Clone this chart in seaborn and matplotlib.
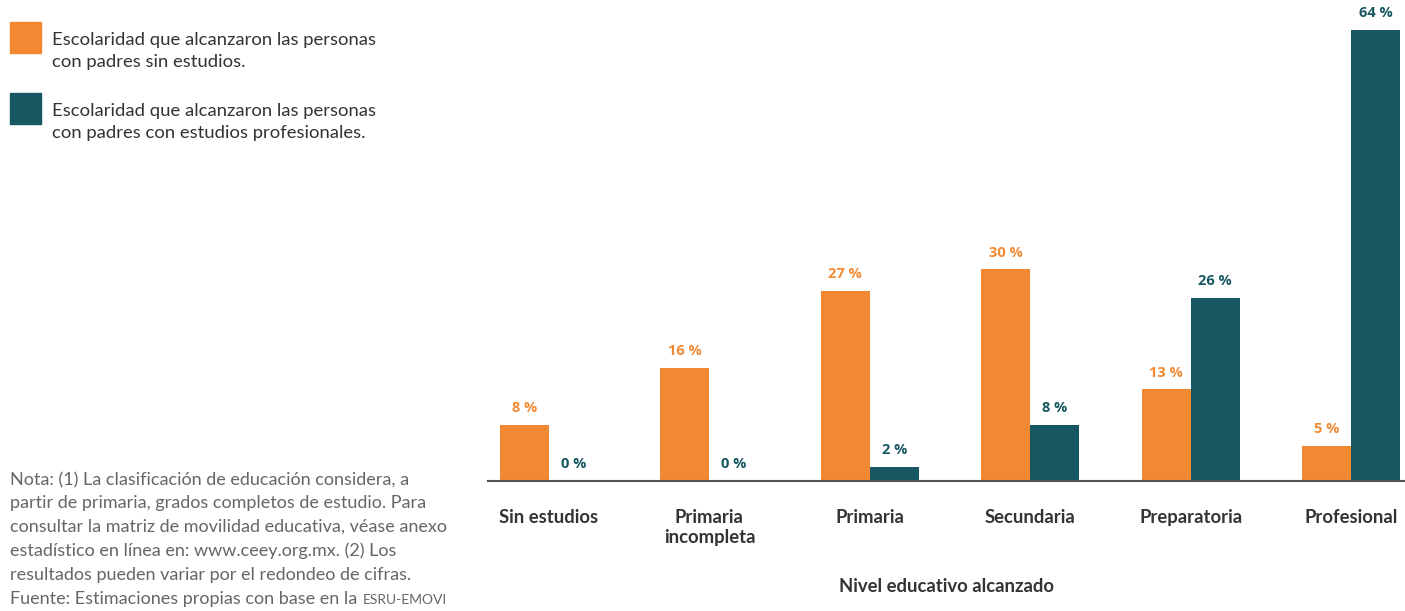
import matplotlib
matplotlib.use("Agg")
import matplotlib.pyplot as plt
from matplotlib.patches import Rectangle
import seaborn as sns
import pandas as pd

categories = ["Sin estudios", "Primaria\nincompleta", "Primaria", "Secundaria", "Preparatoria", "Profesional"]
series_names = ["Escolaridad que alcanzaron las personas\ncon padres sin estudios.",
                "Escolaridad que alcanzaron las personas\ncon padres con estudios profesionales."]
sin_estudios = [8, 16, 27, 30, 13, 5]
profesionales = [0, 0, 2, 8, 26, 64]
colors = ["#F38832", "#165761"]

df = pd.DataFrame({
    "cat": categories * 2,
    "serie": [series_names[0]] * 6 + [series_names[1]] * 6,
    "val": sin_estudios + profesionales,
})

sns.set_theme(style="white")
plt.rcParams["font.family"] = ["Lato", "DejaVu Sans"]

W, H = 1405, 611
fig = plt.figure(figsize=(W / 100, H / 100), dpi=100)
ax = fig.add_axes([488 / W, (H - 481) / H, 1 - 488 / W, 481 / H])

sns.barplot(data=df, x="cat", y="val", hue="serie", order=categories,
            hue_order=series_names, palette=colors, width=0.61,
            saturation=1, ax=ax, legend=False, linewidth=0)

ax.set_xlim(-0.38, 5.336)
ax.set_ylim(0, 68.2)
for s in ["top", "right", "left"]:
    ax.spines[s].set_visible(False)
ax.spines["bottom"].set_color("#555555")
ax.spines["bottom"].set_linewidth(1.5)
ax.set_yticks([])
ax.set_ylabel("")
ax.tick_params(axis="x", length=0, pad=20)
for lbl in ax.get_xticklabels():
    lbl.set_fontsize(13.3)
    lbl.set_fontweight("bold")
    lbl.set_color("#333333")
    lbl.set_verticalalignment("top")
ax.set_xlabel("Nivel educativo alcanzado", fontsize=13.3, fontweight="bold",
              color="#333333", labelpad=23)

for container, col in zip(ax.containers, colors):
    labels = [f"{int(round(v))} %" for v in container.datavalues]
    ax.bar_label(container, labels=labels, padding=7, color=col,
                 fontsize=10.5, fontweight="bold", family=["Open Sans", "DejaVu Sans"])

# Legend (manual)
for i, (name, col) in enumerate(zip(series_names, colors)):
    y0 = 22 + i * 71
    fig.patches.append(Rectangle((10 / W, 1 - (y0 + 31) / H), 31 / W, 31 / H,
                                 transform=fig.transFigure, color=col))
    fig.text(52 / W, 1 - (y0 + 10) / H, name, fontsize=13.3, color="#333333",
             va="top", ha="left", linespacing=1.45)

note = ("Nota: (1) La clasificación de educación considera, a\n"
        "partir de primaria, grados completos de estudio. Para\n"
        "consultar la matriz de movilidad educativa, véase anexo\n"
        "estadístico en línea en: www.ceey.org.mx. (2) Los\n"
        "resultados pueden variar por el redondeo de cifras.")
last_line = "Fuente: Estimaciones propias con base en la"
fig.text(10 / W, 1 - 580 / H, note, fontsize=13, color="#666666",
         va="baseline", ha="left", linespacing=1.58)
fig.canvas.draw()
r = fig.canvas.get_renderer()
lt = fig.text(10 / W, 1 - 604 / H, last_line, fontsize=13, color="#666666",
              va="baseline", ha="left")
bb = lt.get_window_extent(r)
fig.text((bb.x1 + 5) / W, 1 - 604 / H, "ESRU-EMOVI", fontsize=10, color="#666666",
         va="baseline", ha="left")

fig.savefig("out.png", dpi=100)
